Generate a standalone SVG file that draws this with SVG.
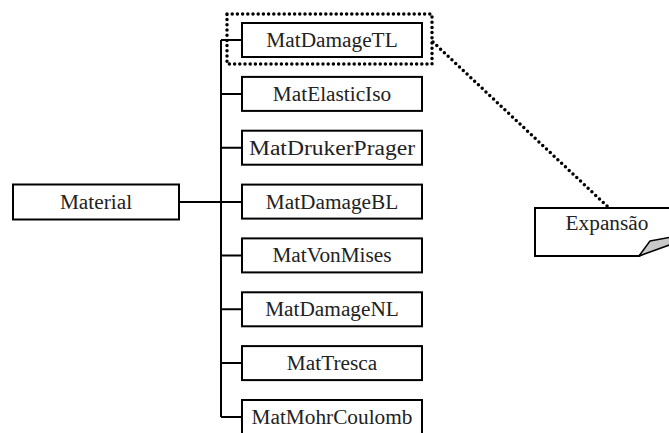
<svg xmlns="http://www.w3.org/2000/svg" width="669" height="433" viewBox="0 0 669 433">
<style>
.box{fill:#fff;stroke:#000;stroke-width:2}
.lbl{font-family:"Liberation Serif","Times New Roman",serif;font-size:21.3px;fill:#222;text-anchor:middle}
.ln{fill:none;stroke:#000;stroke-width:2}
.dot{fill:none;stroke:#000;stroke-width:3.5;stroke-linecap:round;stroke-dasharray:0 5.2}
</style>
<rect width="669" height="433" fill="#fff"/>
<g id="connectors">
<path class="ln" d="M221,40 V417 M179,202 H242 M221,40 H242 M221,93.9 H242 M221,147.7 H242 M221,255.4 H242 M221,309.3 H242 M221,363.1 H242 M221,417 H242"/>
<path class="dot" d="M433,42 L608,207"/>
</g>
<g id="Material"><rect class="box" x="13" y="184.5" width="166" height="35"/><text class="lbl" x="96" y="209">Material</text></g>
<g id="MatDamageTL"><rect class="box" x="242" y="23" width="180" height="34"/><text class="lbl" x="332" y="47">MatDamageTL</text>
<rect class="dot" x="227" y="14" width="205" height="50"/></g>
<g id="MatElasticIso"><rect class="box" x="242" y="76.9" width="180" height="34"/><text class="lbl" x="332" y="100.9">MatElasticIso</text></g>
<g id="MatDrukerPrager"><rect class="box" x="242" y="130.7" width="180" height="34"/><text class="lbl" x="332" y="154.7" textLength="166" lengthAdjust="spacingAndGlyphs">MatDrukerPrager</text></g>
<g id="MatDamageBL"><rect class="box" x="242" y="184.6" width="180" height="34"/><text class="lbl" x="332" y="208.6">MatDamageBL</text></g>
<g id="MatVonMises"><rect class="box" x="242" y="238.4" width="180" height="34"/><text class="lbl" x="332" y="262.4">MatVonMises</text></g>
<g id="MatDamageNL"><rect class="box" x="242" y="292.3" width="180" height="34"/><text class="lbl" x="332" y="316.3">MatDamageNL</text></g>
<g id="MatTresca"><rect class="box" x="242" y="346.1" width="180" height="34"/><text class="lbl" x="332" y="370.1">MatTresca</text></g>
<g id="MatMohrCoulomb"><rect class="box" x="242" y="400" width="180" height="34"/><text class="lbl" x="332" y="424">MatMohrCoulomb</text></g>
<g id="Expansao">
<path class="box" d="M535,208 H672 V239 L639,256 H535 Z"/>
<path d="M639,256 L650,241 L672,237 V244 Z" fill="#c8c8c8" stroke="#000" stroke-width="1.5" stroke-linejoin="round"/>
<text class="lbl" x="607" y="230">Expansão</text>
</g>
</svg>
